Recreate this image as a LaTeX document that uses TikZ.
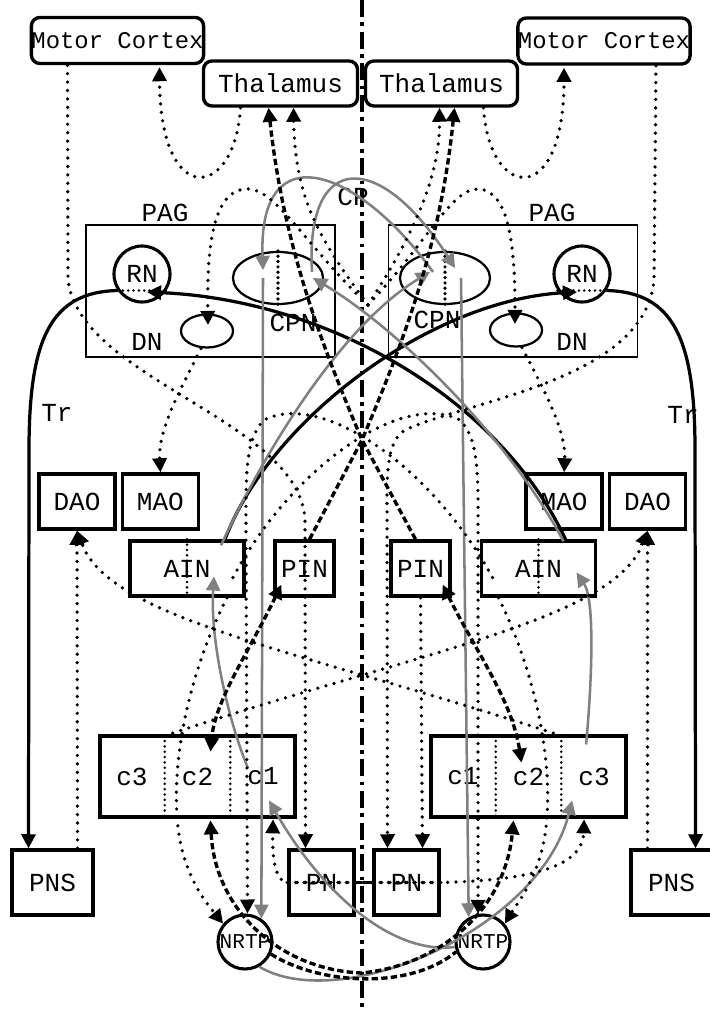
\documentclass[tikz,border=0pt]{standalone}
\usepackage{fontspec}
\setmonofont{Liberation Mono}
\usetikzlibrary{arrows.meta, positioning, calc, shapes.geometric}

\begin{document}
\begin{tikzpicture}[
    x=0.025cm, y=-0.025cm,
    font=\ttfamily\fontsize{18.5}{20}\selectfont,
    sbox/.style={rectangle, draw, line width=2.4pt, inner sep=0pt,
                 minimum width=1.9cm, minimum height=1.375cm},
    rbox/.style={sbox, rounded corners=6pt, minimum height=1.15cm},
    pagbox/.style={rectangle, draw, line width=1.2pt,
                   minimum width=6.225cm, minimum height=3.3cm},
    cbcell/.style={rectangle, inner sep=0pt,
                   minimum width=1.625cm, minimum height=2.025cm},
    nucl/.style={circle, draw, line width=2.2pt, inner sep=0pt, minimum size=1.4cm},
    nucoval/.style={ellipse, draw, line width=1.6pt, inner sep=0pt},
    arr/.style={-{Triangle[length=10pt, width=10pt]}},
    arrs/.style={{Triangle[length=10pt, width=10pt]}-{Triangle[length=10pt, width=10pt]}},
    dotl/.style={line width=2.6pt, line cap=round, dash pattern=on 0pt off 6pt},
    dotfine/.style={line width=2pt, line cap=round, dash pattern=on 0pt off 3.8pt},
    dashl/.style={line width=2.4pt, dash pattern=on 4.5pt off 2.3pt},
    grayl/.style={line width=1.8pt, black!50},
    solidl/.style={line width=2.3pt},
    midline/.style={line width=2.8pt, dash pattern=on 12pt off 4pt on 2.5pt off 4pt}
]
\useasboundingbox (0,0) rectangle (709,1010);

\coordinate (mtop) at (362,0);
\coordinate (mbot) at (362,1010);
\coordinate (dec)  at (368,305);
\coordinate (xing) at (362,440);
\draw[midline] (mtop) -- (mbot);

% top row
\node[rbox, minimum width=4.275cm, font=\ttfamily\fontsize{17}{18}\selectfont] (mcL) at (117.5,40.5) {Motor Cortex};
\node[rbox, minimum width=4.275cm, font=\ttfamily\fontsize{17}{18}\selectfont] (mcR) at (604,41) {Motor Cortex};
\node[rbox, minimum width=3.85cm, minimum height=1.125cm] (thL) at (280.5,83.5) {Thalamus};
\node[rbox, minimum width=3.8cm, minimum height=1.125cm]  (thR) at (441.5,83.5) {Thalamus};

% PAG
\node[pagbox] (pagL) at (210.5,291) {};
\node[pagbox] (pagR) at (513,291) {};
\node (pagLlab) at (165,213) {PAG};
\node (pagRlab) at (552,213) {PAG};
\node (cp) at (353,197) {CP};
\node[nucl] (rnL) at (142,274) {RN};
\node[nucl] (rnR) at (582,274) {RN};
\node[nucoval, minimum width=2.25cm, minimum height=1.3cm] (cpnL) at (278,278) {};
\node[nucoval, minimum width=2.25cm, minimum height=1.3cm] (cpnR) at (445,278) {};
\node (cpnLlab) at (293,323) {CPN};
\node (cpnRlab) at (437,320) {CPN};
\node[nucoval, minimum width=1.3cm, minimum height=0.825cm] (dnL) at (207,331) {};
\node[nucoval, minimum width=1.3cm, minimum height=0.825cm] (dnR) at (516,330) {};
\node (dnLlab) at (147,342) {DN};
\node (dnRlab) at (572,342) {DN};
\node (trL) at (57,413) {Tr};
\node (trR) at (683,415) {Tr};

% olives and nuclei
\node[sbox] (daoL) at (77,501.5) {DAO};
\node[sbox, right=0.1cm of daoL] (maoL) {MAO};
\node[sbox] (daoR) at (647.5,501.5) {DAO};
\node[sbox, left=0.1cm of daoR] (maoR) {MAO};
\node[sbox, minimum width=2.85cm]  (ainL) at (187,568.5) {AIN};
\node[sbox, minimum width=1.475cm] (pinL) at (304.5,568.5) {PIN};
\node[sbox, minimum width=1.475cm] (pinR) at (420.5,568.5) {PIN};
\node[sbox, minimum width=2.85cm]  (ainR) at (538.5,568.5) {AIN};

% cerebellar cortex
\node[sbox, minimum width=4.875cm, minimum height=2.025cm] (cboxL) at (197.5,776.5) {};
\node[cbcell] (c2L) at (cboxL) {c2};
\node[cbcell, left=0pt of c2L]  (c3L) {c3};
\node[cbcell, right=0pt of c2L] (c1L) {c1};
\node[sbox, minimum width=4.875cm, minimum height=2.025cm] (cboxR) at (528.5,776.5) {};
\node[cbcell] (c2R) at (cboxR) {c2};
\node[cbcell, left=0pt of c2R]  (c1R) {c1};
\node[cbcell, right=0pt of c2R] (c3R) {c3};

% bottom row
\node[sbox, minimum width=2.025cm, minimum height=1.625cm] (pnsL) at (52.5,882.5) {PNS};
\node[sbox, minimum width=1.625cm, minimum height=1.625cm] (pnL)  at (321.5,882.5) {PN};
\node[sbox, minimum width=1.625cm, minimum height=1.625cm] (pnR)  at (406.5,882.5) {PN};
\node[sbox, minimum width=2.025cm, minimum height=1.625cm] (pnsR) at (671.5,882.5) {PNS};
\node[nucl, minimum size=1.35cm, font=\ttfamily\fontsize{15}{16}\selectfont] (nrtpL) at (245,942) {NRTP};
\node[nucl, minimum size=1.35cm, font=\ttfamily\fontsize{15}{16}\selectfont] (nrtpR) at (483,942) {NRTP};

% inner dividers
\draw[dotfine] (c3L.north east) -- (c3L.south east);
\draw[dotfine] (c1L.north west) -- (c1L.south west);
\draw[dotfine] (c1R.north east) -- (c1R.south east);
\draw[dotfine] (c3R.north west) -- (c3R.south west);
\draw[dotfine] (ainL.north) -- (ainL.south);
\draw[dotfine] (ainR.north) -- (ainR.south);
\draw[dotfine] (rnL.214) -- (rnL.-34);
\draw[dotfine] (rnR.214) -- (rnR.-34);
\draw[dotfine, line width=2.6pt] (cpnL.north) -- (cpnL.south);
\draw[dotfine, line width=2.6pt] (cpnR.north) -- (cpnR.south);

% solid black
\draw[solidl, arr] (rnL.214) .. controls (50,292) and (29,340) .. (29,450) -- ($(pnsL.north)+(-24,0)$);
\draw[solidl, arr] (rnR.-34) .. controls (674,292) and (695,340) .. (695,450) -- ($(pnsR.north)+(24,0)$);
\draw[solidl, arr] ($(ainL.north)+(38,0)$) .. controls (270,420) and (430,300) .. ($(rnR.center)+(-5,18)$);
\draw[solidl, arr] ($(ainR.north)+(27,0)$) .. controls (500,400) and (330,300) .. ($(rnL.center)+(5,18)$);

% gray
\draw[grayl, arr] ($(ainL.north)+(34,6)$) .. controls (275,430) and (350,320) .. ($(cpnR.center)+(-15,-6)$);
\draw[grayl, arr] ($(ainR.north)+(25,2)$) .. controls (510,440) and (400,330) .. ($(cpnL.center)+(35,0)$);
\draw[grayl, arr] ($(cpnR.center)+(-12,-6)$) .. controls (360,170) and (258,130) .. ($(cpnL.center)+(-15,-8)$);
\draw[grayl, arr] ($(cpnL.center)+(34,-6)$) .. controls (305,150) and (380,150) .. ($(cpnR.center)+(10,-10)$);
\draw[grayl, arr] ($(cpnL.center)+(-15,0)$) -- (nrtpL.55);
\draw[grayl, arr] ($(cpnR.center)+(16,0)$) -- (nrtpR.120);
\draw[grayl, arr] (nrtpR.190) .. controls (390,955) and (320,890) .. ($(c1L.center)+(6,24)$);
\draw[grayl, arr] (nrtpL.-60) .. controls (340,1015) and (540,930) .. ($(c3R.center)+(-22,24)$);
\draw[grayl, arr] ($(c1L.center)+(-15,-8)$) .. controls (228,720) and (210,640) .. ($(ainL.center)+(27,8)$);
\draw[grayl, arr] ($(c3R.center)+(-8,-32)$) .. controls (592,680) and (595,600) .. ($(ainR.center)+(38,4)$);

% dashed
\draw[dashl, arr] ($(pinL.north)+(5,0)$) -- (xing) .. controls (400,350) and (440,250) .. ($(thR.south)+(13,0)$);
\draw[dashl, arr] ($(pinR.north)+(-5,0)$) -- (xing) .. controls (324,350) and (284,250) .. ($(thL.south)+(-12,0)$);
\draw[dashl, arrs] ($(pinL.south west)+(8,-13)$) .. controls (250,650) and (215,700) .. ($(c2L.north)+(13,16)$);
\draw[dashl, arrs] ($(pinR.south east)+(-9,-13)$) .. controls (475,650) and (512,700) .. ($(c2R.north)+(-7,27)$);
\draw[dashl, arrs] ($(c2L.south)+(13,3)$) .. controls (215,910) and (280,970) .. (362,973)
                   .. controls (440,965) and (505,910) .. ($(c2R.south)+(-15,3)$);
\draw[dashl] (nrtpL.-25) .. controls (320,985) and (410,990) .. (nrtpR.200);
\draw[dashl, line width=2.8pt] (pnL.east) -- (pnR.west);

% dotted
\draw[dotl, arr] ($(thL.south)+(-40,0)$) .. controls (235,200) and (160,210) .. ($(mcL.south)+(42,2)$);
\draw[dotl, arr] ($(thR.south)+(42,0)$) .. controls (489,200) and (564,210) .. ($(mcR.south)+(-40,2)$);
\draw[dotl, arr] ($(mcL.south)+(-50,0)$) -- (68,280) .. controls (80,380) and (300,420) .. (305,520) -- ($(pnL.north)+(-16,0)$);
\draw[dotl, arr] ($(mcR.south)+(52,0)$) -- (654,280) .. controls (645,380) and (470,400) .. (405,430)
                 .. controls (390,440) and (387,460) .. (387,500) -- ($(pnR.north)+(-19,0)$);
\draw[dotl, arr] (pinR.south) -- ($(pnR.north)+(16,0)$);
\draw[dotl, arr] ($(dnL.south)+(-6,0)$) .. controls (180,390) and (158,430) .. (maoL.north);
\draw[dotl, arr] ($(dnR.south)+(6,0)$) .. controls (544,390) and (566,430) .. (maoR.north);
\draw[dotl, arr] (dec) .. controls (300,240) and (272,180) .. (240,190)
                 .. controls (210,198) and (207,260) .. ($(dnL.center)+(1,-6)$);
\draw[dotl, arr] (dec) .. controls (430,240) and (455,180) .. (484,190)
                 .. controls (512,198) and (515,260) .. ($(dnR.center)+(-1,-6)$);
\draw[dotl, arr] (dec) .. controls (320,240) and (295,200) .. ($(thL.south)+(13,0)$);
\draw[dotl, arr] (dec) .. controls (410,240) and (440,180) .. ($(thR.south)+(-2,0)$);
\draw[dotl, arr] ($(ainL.center)+(46,9)$) .. controls (290,470) and (400,390) .. (460,420)
                 .. controls (480,440) and (478,480) .. (478,540) -- (nrtpR.100);
\draw[dotl, arr] ($(ainR.center)+(-46,9)$) .. controls (434,470) and (324,390) .. (264,420)
                 .. controls (244,440) and (246,480) .. (246,540) -- (nrtpL.85);
\draw[dotl, arr] ($(ainL.south)+(40,0)$) .. controls (180,690) and (165,800) .. (185,860)
                 .. controls (195,890) and (208,905) .. (nrtpL.140);
\draw[dotl, arr] ($(ainR.south)+(-40,0)$) .. controls (544,690) and (559,800) .. (539,860)
                 .. controls (529,890) and (516,905) .. (nrtpR.40);
\draw[dotl, arr] (c3R.north west) .. controls (300,650) and (110,620) .. (daoL.south);
\draw[dotl, arr] (c3L.north east) .. controls (424,650) and (614,620) .. (daoR.south);
\draw[dotl, arr] ($(pnsL.north)+(25,0)$) -- (daoL.south);
\draw[dotl, arr] ($(pnsR.north)+(-24,0)$) -- (daoR.south);
\draw[dotl, arr] (pnR.east) -- (pnL.west) .. controls (276,882) and (272,860) .. ($(c1L.south)+(10,2)$);
\draw[dotl, arr] (pnL.west) -- (pnR.east) .. controls (545,880) and (583,862) .. ($(c3R.south)+(-10,2)$);
\end{tikzpicture}
\end{document}
